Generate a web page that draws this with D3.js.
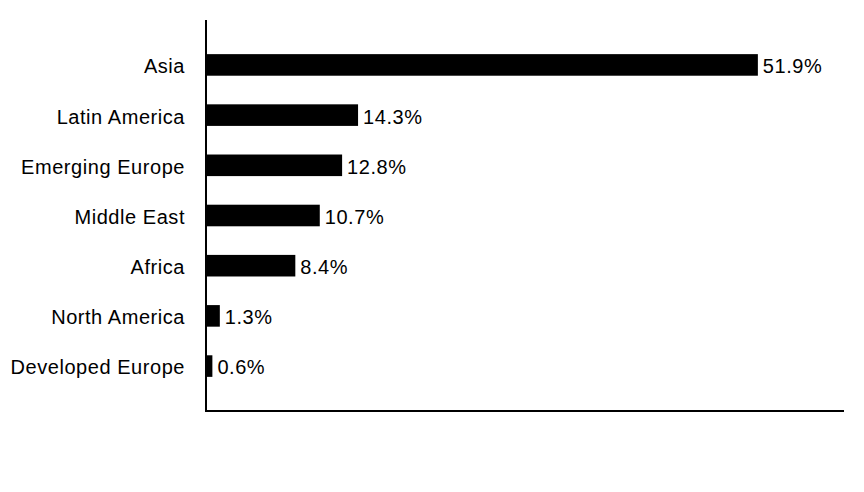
<!DOCTYPE html>
<html>
<head>
<meta charset="utf-8">
<script src="https://cdn.jsdelivr.net/npm/d3@7"></script>
<style>
  body { margin: 0; background: #fff; }
  text { font-family: "Liberation Sans", Arial, sans-serif; letter-spacing: 0.55px; }
</style>
</head>
<body>
<div id="chart"></div>
<script>
// data
var regions = ["Asia", "Latin America", "Emerging Europe", "Middle East", "Africa", "North America", "Developed Europe"];
var shares = [51.9, 14.3, 12.8, 10.7, 8.4, 1.3, 0.6];

var width = 864;
var height = 492;
var plot_left = 206, plot_right = 844, plot_top = 20, plot_bottom = 411;
var font_size = 20;

var svg = d3.select("#chart").append("svg")
  .attr("width", width)
  .attr("height", height);

var x = d3.scaleLinear()
  .domain([0, 60])
  .range([plot_left, plot_right]);

var y = d3.scaleBand()
  .domain(regions)
  .range([plot_top, plot_bottom])
  .paddingInner(0.57)
  .paddingOuter(0.68);

var rows = regions.map(function(r, i) { return {region: r, value: shares[i]}; });

// bars
svg.selectAll(".bar")
  .data(rows)
  .enter().append("rect")
    .attr("class", "bar")
    .attr("x", x(0))
    .attr("y", function(d) { return y(d.region); })
    .attr("width", function(d) { return x(d.value) - x(0); })
    .attr("height", y.bandwidth())
    .attr("fill", "#000");

// value labels
svg.selectAll(".val")
  .data(rows)
  .enter().append("text")
    .attr("class", "val")
    .attr("x", function(d) { return x(d.value) + 5; })
    .attr("y", function(d) { return y(d.region) + y.bandwidth() / 2; })
    .attr("dy", "0.42em")
    .attr("font-size", font_size)
    .attr("fill", "#000")
    .text(function(d) { return d.value.toFixed(1) + "%"; });

// category labels
svg.selectAll(".cat")
  .data(rows)
  .enter().append("text")
    .attr("class", "cat")
    .attr("x", plot_left - 21)
    .attr("y", function(d) { return y(d.region) + y.bandwidth() / 2; })
    .attr("dy", "0.42em")
    .attr("text-anchor", "end")
    .attr("font-size", font_size)
    .attr("fill", "#000")
    .text(function(d) { return d.region; });

// axis lines
svg.append("line")
  .attr("x1", plot_left).attr("x2", plot_left)
  .attr("y1", plot_top).attr("y2", plot_bottom + 1)
  .attr("stroke", "#000")
  .attr("stroke-width", 2);

svg.append("line")
  .attr("x1", plot_left - 1).attr("x2", plot_right)
  .attr("y1", plot_bottom).attr("y2", plot_bottom)
  .attr("stroke", "#000")
  .attr("stroke-width", 2);
</script>
</body>
</html>
